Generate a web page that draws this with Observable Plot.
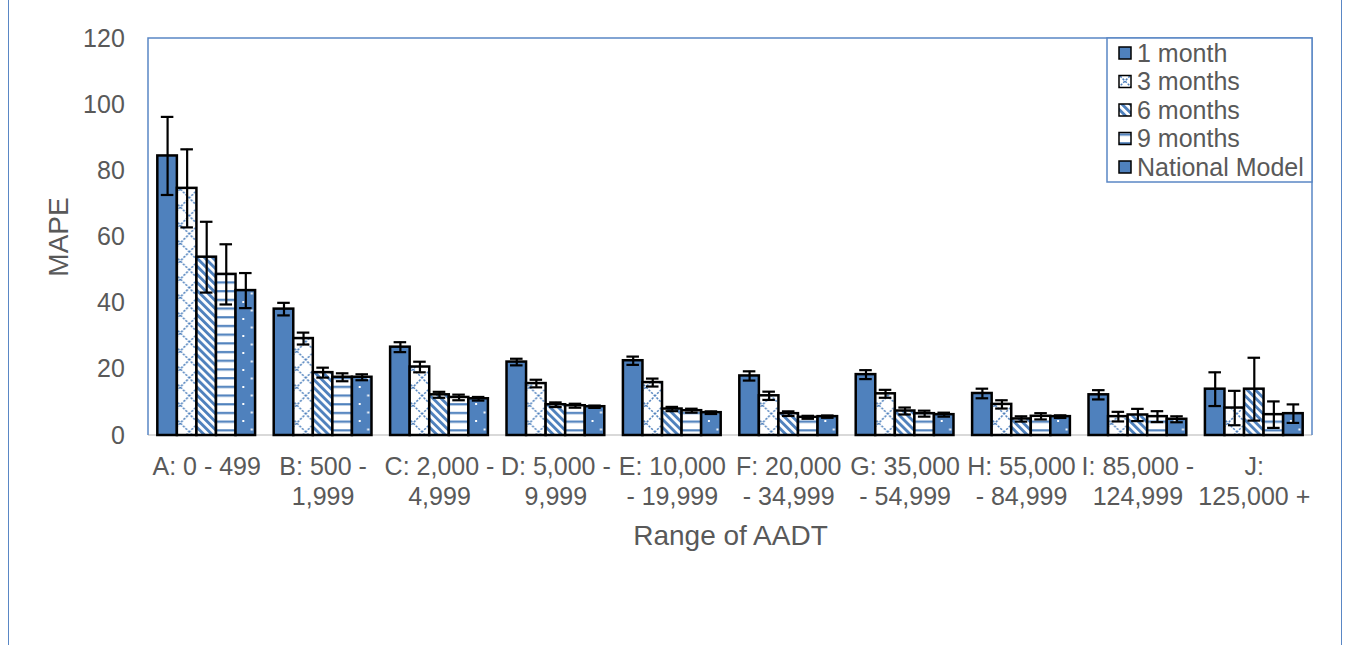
<!DOCTYPE html>
<html>
<head>
<meta charset="utf-8">
<script src="https://cdn.jsdelivr.net/npm/d3@7"></script>
<script src="https://cdn.jsdelivr.net/npm/@observablehq/plot@0.6"></script>
<style>
  body { margin: 0; background: #fff; }
  #wrap { position: relative; width: 1348px; height: 645px; overflow: hidden; font-family: "Liberation Sans", Arial, sans-serif; }
  #wrap .edge { position: absolute; top: 0; bottom: 0; width: 0; border-left: 1.5px solid #5a87c5; }
  #wrap svg { position: absolute; left: 0; top: 0; }
</style>
</head>
<body>
<div id="wrap">
  <div class="edge" style="left:7.5px"></div>
  <div class="edge" style="left:1340.5px"></div>
</div>
<script>
// AADT ranges (x groups) and forecast horizons (series)
const groups = [
  "A: 0 - 499", "B: 500 -\n1,999", "C: 2,000 -\n4,999", "D: 5,000 -\n9,999",
  "E: 10,000\n- 19,999", "F: 20,000\n- 34,999", "G: 35,000\n- 54,999",
  "H: 55,000\n- 84,999", "I: 85,000 -\n124,999", "J:\n125,000 +"
];
const series = ["1 month", "3 months", "6 months", "9 months", "National Model"];
const yTicks = [0, 20, 40, 60, 80, 100, 120];

// MAPE by AADT group, one array per series
const mape1m  = [84.5, 38.2, 26.7, 22.2, 22.6, 18.0, 18.4, 12.7, 12.3, 14.0];
const mape3m  = [74.7, 29.3, 20.7, 15.7, 16.0, 12.0, 12.6, 9.4, 5.7, 8.3];
const mape6m  = [53.9, 19.0, 12.3, 9.3, 8.0, 6.6, 7.4, 5.0, 6.2, 14.0];
const mape9m  = [48.7, 17.6, 11.5, 9.0, 7.5, 5.5, 6.6, 5.8, 5.7, 6.3];
const mapeNat = [43.8, 17.6, 11.1, 8.7, 6.9, 5.7, 6.3, 5.7, 4.9, 6.6];

// Error bar half-widths
const err1m  = [11.8, 1.9, 1.5, 1.0, 1.25, 1.4, 1.35, 1.45, 1.4, 5.1];
const err3m  = [11.8, 1.8, 1.6, 1.15, 1.2, 1.25, 1.2, 1.25, 1.45, 5.2];
const err6m  = [10.7, 1.5, 0.9, 0.7, 0.65, 0.7, 1.05, 0.8, 1.85, 9.5];
const err9m  = [9.1, 1.2, 0.85, 0.6, 0.6, 0.45, 0.9, 0.95, 1.65, 4.0];
const errNat = [5.3, 0.9, 0.55, 0.35, 0.4, 0.35, 0.6, 0.4, 0.9, 2.8];

const values = [mape1m, mape3m, mape6m, mape9m, mapeNat];
const errors = [err1m, err3m, err6m, err9m, errNat];
const fills = ["url(#p-solid)", "url(#p-diamond)", "url(#p-diag)", "url(#p-horiz)", "url(#p-dots)"];

const rows = groups.flatMap((g, i) => series.map((s, j) => ({
  group: g, series: s, mape: values[j][i], err: errors[j][i]
})));

const blue = "#4f81bd";
const frameBlue = "#5a87c5";
const ink = "#595959";
const font = "'Liberation Sans', Arial, sans-serif";

const W = 1348, H = 645;
const mL = 148, mR = 36, mT = 38, mB = 210;

const chart = Plot.plot({
  width: W, height: H,
  marginLeft: mL, marginRight: mR, marginTop: mT, marginBottom: mB,
  style: { fontFamily: font, fontSize: "25px", color: ink, background: "transparent", overflow: "visible" },
  fx: { domain: groups, paddingInner: 0.16, paddingOuter: 0.08, round: false },
  x: { domain: series, padding: 0, round: false, axis: null },
  y: { domain: [0, 120] },
  color: { domain: series, range: fills },
  marks: [
    Plot.axisY({ ticks: yTicks, tickSize: 0, tickPadding: 33, fontSize: 25, fill: ink,
                 label: "MAPE", labelAnchor: "center", labelArrow: "none", labelOffset: 110 }),
    Plot.axisFx({ anchor: "bottom", tickSize: 0, tickPadding: 18, fontSize: 25, lineHeight: 1.2, fill: ink,
                  label: "Range of AADT", labelAnchor: "center", labelOffset: 109 }),
    Plot.barY(rows, { fx: "group", x: "series", y: "mape", fill: "series", stroke: "#000", strokeWidth: 2.5 }),
    Plot.ruleX(rows, { fx: "group", x: "series", y1: d => d.mape - d.err, y2: d => d.mape + d.err,
                       stroke: "#000", strokeWidth: 2.2 }),
    Plot.tickY(rows, { fx: "group", x: "series", y: d => d.mape + d.err, stroke: "#000", strokeWidth: 2.2, inset: 3.5 }),
    Plot.tickY(rows, { fx: "group", x: "series", y: d => d.mape - d.err, stroke: "#000", strokeWidth: 2.2, inset: 3.5 })
  ]
});

const svg = d3.select(chart);

// Fill patterns for the five series
const defs = svg.insert("defs", ":first-child");
const pat = (id, w, h, extra) => {
  const p = defs.append("pattern").attr("id", id).attr("patternUnits", "userSpaceOnUse")
    .attr("width", w).attr("height", h);
  if (extra) p.attr("patternTransform", extra);
  return p;
};
pat("p-solid", 10, 10).append("rect").attr("width", 10).attr("height", 10).attr("fill", blue);

const pd = pat("p-diamond", 18, 18);
pd.append("rect").attr("width", 18).attr("height", 18).attr("fill", "#fff");
pd.append("path").attr("d", "M-1,-1L19,19M19,-1L-1,19").attr("stroke", blue)
  .attr("stroke-width", 1.5).attr("stroke-dasharray", "2.2 1.4");

const pg = pat("p-diag", 5.7, 5.7, "rotate(-45)");
pg.append("rect").attr("width", 5.7).attr("height", 5.7).attr("fill", "#fff");
pg.append("rect").attr("width", 2.9).attr("height", 5.7).attr("fill", blue);

const ph = pat("p-horiz", 10, 8.7);
ph.append("rect").attr("width", 10).attr("height", 8.7).attr("fill", "#fff");
ph.append("rect").attr("y", 3).attr("width", 10).attr("height", 2.2).attr("fill", blue);

const pn = pat("p-dots", 17, 17);
pn.append("rect").attr("width", 17).attr("height", 17).attr("fill", blue);
pn.append("rect").attr("x", 3.5).attr("y", 3.5).attr("width", 2).attr("height", 2).attr("fill", "#fff");
pn.append("rect").attr("x", 12).attr("y", 12).attr("width", 2).attr("height", 2).attr("fill", "#fff");

// Axis titles are set a bit larger than the tick labels
svg.selectAll("g[aria-label$='axis label'] text").attr("font-size", 28);

// Plot-area frame: blue on three sides, grey baseline at zero
const x0 = mL, x1 = W - mR, y0 = mT, y1 = H - mB;
const under = svg.insert("g", "defs + *");
under.append("line").attr("x1", x0).attr("x2", x1).attr("y1", y1).attr("y2", y1)
  .attr("stroke", "#d9d9d9").attr("stroke-width", 2);
under.append("path").attr("d", `M${x0},${y1}V${y0}H${x1}V${y1}`)
  .attr("fill", "none").attr("stroke", frameBlue).attr("stroke-width", 1.5);

// Legend box in the upper right corner of the plot area
const color = chart.scale("color");
const lg = svg.append("g").attr("font-family", font).attr("font-size", 25).attr("fill", ink)
  .attr("text-anchor", "start");
lg.append("rect").attr("x", 1107).attr("y", y0).attr("width", x1 - 1107).attr("height", 144)
  .attr("fill", "#fff").attr("stroke", frameBlue).attr("stroke-width", 1.5);
series.forEach((s, i) => {
  const cy = 53 + i * 28.5;
  lg.append("rect").attr("x", 1119).attr("y", cy - 6).attr("width", 12).attr("height", 12)
    .attr("fill", color.apply(s)).attr("stroke", "#000").attr("stroke-width", 1.5);
  lg.append("text").attr("x", 1137).attr("y", cy).attr("dy", "0.35em")
    .attr("text-anchor", "start").text(s);
});

document.getElementById("wrap").appendChild(chart);
</script>
</body>
</html>
